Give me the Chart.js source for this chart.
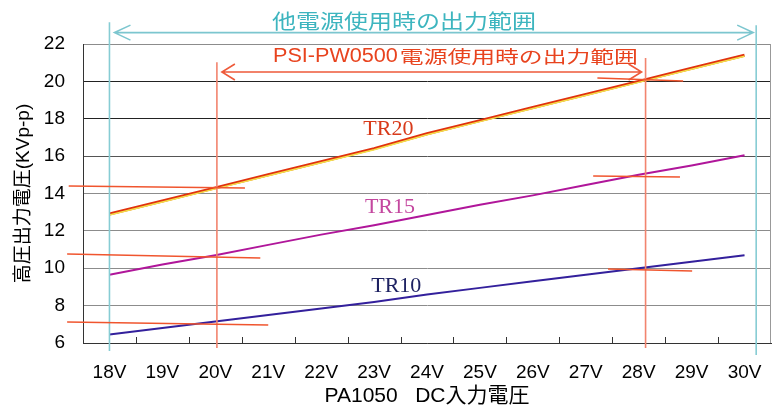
<!DOCTYPE html>
<html><head><meta charset="utf-8">
<script src="https://cdn.jsdelivr.net/npm/chart.js@4.4.0/dist/chart.umd.min.js"></script>
<style>html,body{margin:0;padding:0;background:#fff;}canvas{display:block;}</style>
</head><body>
<canvas id="c" width="781" height="409"></canvas>
<script>
// ---- data ----
const categories = ['18V','19V','20V','21V','22V','23V','24V','25V','26V','27V','28V','29V','30V'];
const tr20 = [12.9, 13.6, 14.3, 15.0, 15.7, 16.4, 17.2, 17.9, 18.6, 19.3, 20.0, 20.7, 21.4];
const tr15 = [9.65, 10.2, 10.7, 11.25, 11.8, 12.3, 12.85, 13.4, 13.9, 14.45, 15.0, 15.5, 16.05];
const tr10 = [6.45, 6.8, 7.15, 7.5, 7.85, 8.2, 8.6, 8.95, 9.3, 9.65, 10.0, 10.35, 10.7];
const yTicks = [6, 8, 10, 12, 14, 16, 18, 20, 22];
const seriesNames = ['TR20', 'TR15', 'TR10'];
// hand-drawn red reading marks: [volt start, kV start, volt end, kV end]
const redMarks = [
  [17.23, 14.40, 20.56, 14.29],
  [17.20, 10.76, 20.85, 10.55],
  [17.20, 7.12, 21.00, 6.96],
  [27.22, 20.18, 28.84, 20.02],
  [27.14, 14.94, 28.78, 14.88],
  [27.42, 9.96, 29.01, 9.85]
];
const otherRange = [18.0, 30.22];   // 他電源使用時の出力範囲 (volts)
const psiRange = [20.03, 28.13];    // PSI-PW0500電源使用時の出力範囲 (volts)
const titleOther = '他電源使用時の出力範囲';
const titlePsiLatin = 'PSI-PW0500';
const titlePsiCjk = '電源使用時の出力範囲';
const xTitle = 'PA1050   DC入力電圧';
const yTitle = '高圧出力電圧(KVp-p)';

// ---- styles / layout ----
const SANS = "'Liberation Sans', 'Noto Sans CJK JP', sans-serif";
const CJK = "'Noto Sans CJK JP', sans-serif";
const SERIF = "'Liberation Serif', serif";
const layoutCfg = {
  cyanArrowY: 22.61, redArrowY: 20.5,
  cyanV: [[23.17, 5.57], [23.01, 5.36]],
  redV: [[21.03, 5.73], [21.25, 5.73]],
  cyanText: {x: 272, y: 21.5},
  redText: {x: 273, y: 56},
  labels: [
    {x: 23.27, y: 17.45, color: '#d83a1a'},
    {x: 23.30, y: 13.28, color: '#c4479f'},
    {x: 23.42, y: 9.05, color: '#1e2262'}
  ]
};

const edgeShift = {
  id: 'edgeShift',
  beforeDatasetDraw(chart, args) {
    if (args.index === 0) { chart.ctx.save(); chart.ctx.translate(0, 1.0); }
  },
  afterDatasetDraw(chart, args) {
    if (args.index === 0) chart.ctx.restore();
  }
};

const annot = {
  id: 'annot',
  afterDraw(chart) {
    const {ctx, chartArea: a, scales: {x, y}} = chart;
    const X = v => x.getPixelForValue(v - 18);
    const Y = v => y.getPixelForValue(v);
    ctx.save();
    // right border
    ctx.strokeStyle = '#999'; ctx.lineWidth = 1;
    ctx.beginPath(); ctx.moveTo(a.right - 0.5, a.top); ctx.lineTo(a.right - 0.5, a.bottom); ctx.stroke();
    // inner tick marks on x axis
    ctx.strokeStyle = '#333';
    ctx.beginPath();
    for (let k = 0; k < categories.length - 1; k++) {
      const px = Math.round(X(18 + k + 0.5)) + 0.5;
      ctx.moveTo(px, a.bottom); ctx.lineTo(px, a.bottom - 6);
    }
    ctx.stroke();

    // vertical range lines
    ctx.lineWidth = 1.6;
    ctx.strokeStyle = '#86ccd4';
    otherRange.forEach((v, i) => {
      ctx.beginPath(); ctx.moveTo(X(v), Y(layoutCfg.cyanV[i][0])); ctx.lineTo(X(v), Y(layoutCfg.cyanV[i][1])); ctx.stroke();
    });
    ctx.strokeStyle = '#f2846e';
    psiRange.forEach((v, i) => {
      ctx.beginPath(); ctx.moveTo(X(v), Y(layoutCfg.redV[i][0])); ctx.lineTo(X(v), Y(layoutCfg.redV[i][1])); ctx.stroke();
    });

    // arrows
    function arrow(x1, x2, yy, color, len, half) {
      ctx.strokeStyle = color; ctx.lineWidth = 1.6;
      ctx.beginPath();
      ctx.moveTo(x1, yy); ctx.lineTo(x2, yy);
      ctx.moveTo(x1 + len, yy - half); ctx.lineTo(x1, yy); ctx.lineTo(x1 + len, yy + half);
      ctx.moveTo(x2 - len, yy - half); ctx.lineTo(x2, yy); ctx.lineTo(x2 - len, yy + half);
      ctx.stroke();
    }
    arrow(X(otherRange[0]) + 5, X(otherRange[1]) - 3, Y(layoutCfg.cyanArrowY), '#7cc6cf', 16, 7.5);
    arrow(X(psiRange[0]) + 5, X(psiRange[1]) - 4, Y(layoutCfg.redArrowY), '#ee5a3a', 13, 8);

    // red reading marks
    ctx.strokeStyle = '#f0552e'; ctx.lineWidth = 1.5;
    redMarks.forEach(m => {
      ctx.beginPath(); ctx.moveTo(X(m[0]), Y(m[1])); ctx.lineTo(X(m[2]), Y(m[3])); ctx.stroke();
    });

    // titles (stretched horizontally like the original)
    ctx.textBaseline = 'middle'; ctx.textAlign = 'left';
    ctx.save();
    ctx.translate(layoutCfg.cyanText.x, layoutCfg.cyanText.y);
    ctx.scale(1.2, 1);
    ctx.font = '20px ' + CJK; ctx.fillStyle = '#3db5bf';
    ctx.fillText(titleOther, 0, 0);
    ctx.restore();

    ctx.save();
    ctx.translate(layoutCfg.redText.x, layoutCfg.redText.y);
    ctx.scale(1.08, 1);
    ctx.font = '20px ' + SANS; ctx.fillStyle = '#e8431e';
    ctx.fillText(titlePsiLatin, 0, 0);
    const w = ctx.measureText(titlePsiLatin).width;
    ctx.restore();
    ctx.save();
    ctx.translate(layoutCfg.redText.x + w * 1.08 + 2, layoutCfg.redText.y);
    ctx.scale(1.36, 1);
    ctx.font = '17.5px ' + CJK; ctx.fillStyle = '#e8431e';
    ctx.fillText(titlePsiCjk, 0, 0);
    ctx.restore();

    // series labels
    ctx.textAlign = 'center';
    ctx.font = '22px ' + SERIF;
    layoutCfg.labels.forEach((l, i) => {
      ctx.fillStyle = l.color;
      ctx.fillText(seriesNames[i], X(l.x), Y(l.y));
    });
    ctx.restore();
  }
};

const gridColor = c => {
  const v = c.tick && c.tick.value;
  if (v === 18 || v === 20) return '#222';
  if (v === 16) return '#555';
  return '#8c8c8c';
};

new Chart(document.getElementById('c'), {
  type: 'line',
  data: {
    labels: categories,
    datasets: [
      {label: seriesNames[0] + ' edge', data: tr20, borderColor: '#f4e04a', borderWidth: 1.5, pointRadius: 0, tension: 0},
      {label: seriesNames[0], data: tr20, borderColor: '#e0320e', borderWidth: 3, pointRadius: 0, tension: 0},
      {label: seriesNames[1], data: tr15, borderColor: '#b0169a', borderWidth: 2, pointRadius: 0, tension: 0},
      {label: seriesNames[2], data: tr10, borderColor: '#33209c', borderWidth: 2, pointRadius: 0, tension: 0}
    ]
  },
  options: {
    responsive: false,
    animation: false,
    devicePixelRatio: 1,
    layout: {padding: {left: 0, right: 10, top: 44, bottom: 0}},
    plugins: {legend: {display: false}, tooltip: {enabled: false}},
    scales: {
      x: {
        type: 'category',
        offset: true,
        grid: {display: false, drawTicks: false},
        border: {display: true, color: '#333', width: 1},
        ticks: {color: '#000', font: {size: 19, family: SANS}, padding: 18, maxRotation: 0, autoSkip: false},
        title: {display: true, text: xTitle, color: '#000', font: {size: 21, family: SANS}, padding: {top: 0, bottom: 0}},
        afterFit: s => { s.height = 66; }
      },
      y: {
        min: 6, max: 22,
        afterBuildTicks: s => { s.ticks = yTicks.map(v => ({value: v})); },
        grid: {color: gridColor, lineWidth: 1, drawTicks: false},
        border: {display: true, color: '#333', width: 1},
        ticks: {color: '#000', font: {size: 19, family: SANS}, padding: 18},
        title: {display: true, text: yTitle, color: '#000', font: {size: 19, family: SANS}, padding: {top: 12, bottom: 0}},
        afterFit: s => { s.width = 83; }
      }
    }
  },
  plugins: [edgeShift, annot]
});
</script>
</body></html>
